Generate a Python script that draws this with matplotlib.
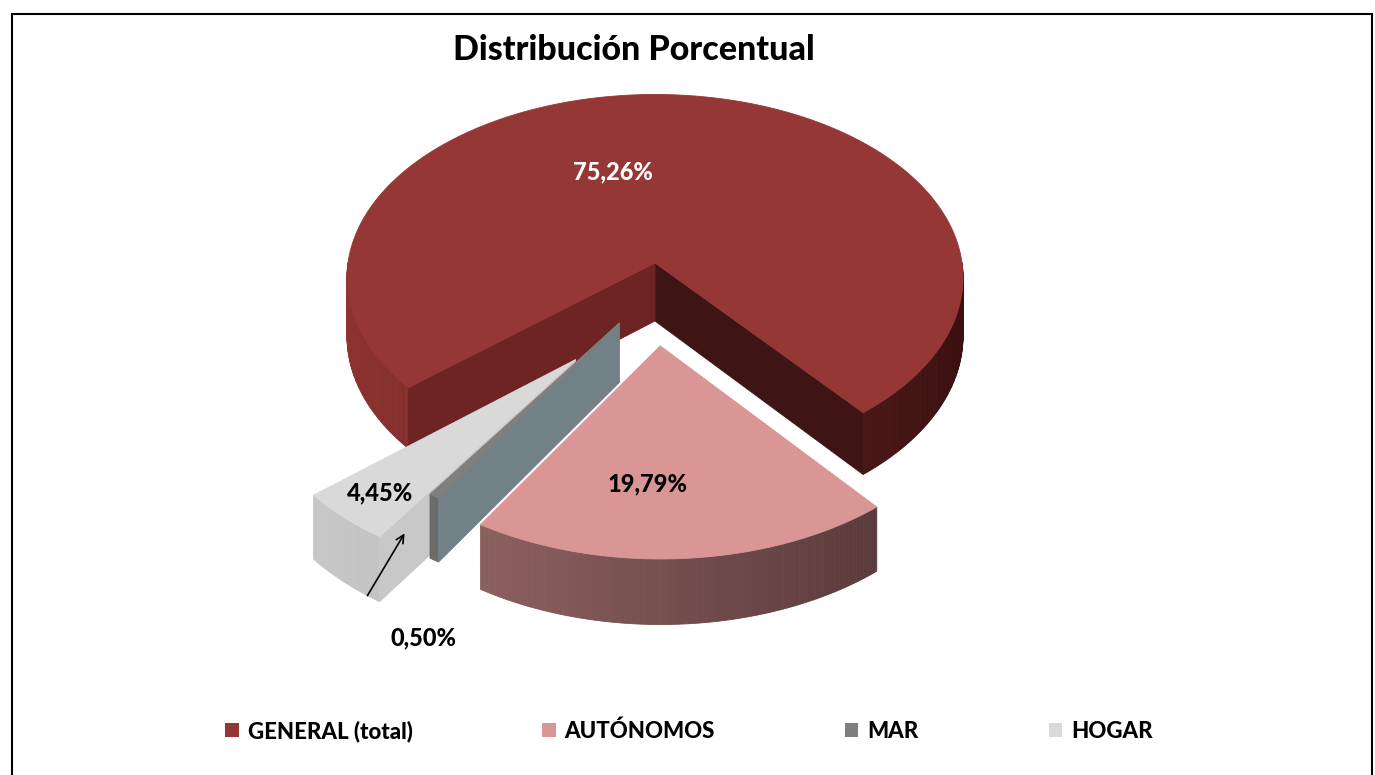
import numpy as np
import matplotlib
matplotlib.use("Agg")
import matplotlib.pyplot as plt
from matplotlib.patches import Polygon, Patch, Rectangle, FancyArrowPatch
from matplotlib.colors import to_rgb

# data
categories = ["GENERAL (total)", "AUTÓNOMOS", "MAR", "HOGAR"]
shares = [75.26, 19.79, 0.50, 4.45]
labels = ["75,26%", "19,79%", "0,50%", "4,45%"]

# style
top_colors = ["#953735", "#d99694", "#7f7f7f", "#d9d9d9"]
side_light = ["#8e3331", "#a16f6f", "#707070", "#cdcdcd"]
side_dark = ["#3a1010", "#4b2f2f", "#5a5a5a", "#a0a0a0"]
start_face = ["#3e1414", "#5a3b3b", "#5a5a5a", "#b0b0b0"]
end_face = ["#6e2423", "#8c6060", "#728088", "#c8c8c8"]
explode = [0.0, 0.44, 0.38, 0.68]
label_pos = [(613, 172), (648, 484), (424, 638), (380, 493)]
label_col = ["white", "black", "black", "black"]

CX, CY = 655, 263
RX, RY = 307, 182
P = 0.08
H = 58
START = -50.5
KX = 0.55
WEIGHT = 900

plt.rcParams["font.family"] = ["Lato", "DejaVu Sans"]

fig = plt.figure(figsize=(13.75, 7.75), dpi=100)
ax = fig.add_axes([0, 0, 1, 1])
ax.set_xlim(0, 1375)
ax.set_ylim(775, 0)
ax.axis("off")


def proj(x, y, bottom=False):
    s = 1.0 / (1.0 + P * y)
    px = CX + RX * x * s
    py = CY - RY * y * s
    if bottom:
        py += H * s
    return px, py


def mix(c1, c2, t):
    a, b = np.array(to_rgb(c1)), np.array(to_rgb(c2))
    return tuple(a + (b - a) * t)


# angles: first slice counterclockwise from START, the rest clockwise from START
spans = [v / 100.0 * 360.0 for v in shares]
ranges = [(START, START + spans[0])]
a = START
for sp in spans[1:]:
    ranges.append((a - sp, a))
    a -= sp


def draw_slice(i):
    t1, t2 = ranges[i]
    b = np.radians((t1 + t2) / 2)
    ox = explode[i] * np.cos(b) * KX
    oy = explode[i] * np.sin(b)
    angs = np.radians(np.linspace(t1, t2, max(int((t2 - t1) * 2), 4)))

    # outer side, only where it faces the viewer
    for j in range(len(angs) - 1):
        a0, a1 = angs[j], angs[j + 1]
        if np.sin((a0 + a1) / 2) >= 0:
            continue
        p0 = proj(ox + np.cos(a0), oy + np.sin(a0))
        p1 = proj(ox + np.cos(a1), oy + np.sin(a1))
        q1 = proj(ox + np.cos(a1), oy + np.sin(a1), True)
        q0 = proj(ox + np.cos(a0), oy + np.sin(a0), True)
        t = (np.cos((a0 + a1) / 2) + 1) / 2
        c = mix(side_light[i], side_dark[i], t)
        ax.add_patch(Polygon([p0, p1, q1, q0], closed=True, fc=c, ec=c, lw=0.6))

    # radial faces
    for ang, col, sign in ((t1, start_face[i], -1), (t2, end_face[i], 1)):
        r = np.radians(ang)
        normal = r + sign * np.pi / 2
        if np.sin(normal) >= 0:
            continue
        c0 = proj(ox, oy)
        e0 = proj(ox + np.cos(r), oy + np.sin(r))
        e1 = proj(ox + np.cos(r), oy + np.sin(r), True)
        c1 = proj(ox, oy, True)
        ax.add_patch(Polygon([c0, e0, e1, c1], closed=True, fc=col, ec=col, lw=0.6))

    # top
    pts = [proj(ox, oy)] + [proj(ox + np.cos(g), oy + np.sin(g)) for g in angs]
    ax.add_patch(Polygon(pts, closed=True, fc=top_colors[i], ec=top_colors[i], lw=0.6))


for i in [0, 3, 2, 1]:
    draw_slice(i)

for i, txt in enumerate(labels):
    ax.text(label_pos[i][0], label_pos[i][1], txt, ha="center", va="center",
            fontsize=17, fontweight=WEIGHT, color=label_col[i])

ax.add_patch(FancyArrowPatch((366, 598), (406, 531), arrowstyle="->",
                             mutation_scale=14, color="black", lw=1.2))

fig.text(634 / 1375, 1 - 50 / 775, "Distribución Porcentual", ha="center",
         va="center", fontsize=24.5, fontweight=WEIGHT)

handles = [Patch(facecolor=c, edgecolor="none") for c in top_colors]
fig.legend(handles, categories, loc="center", bbox_to_anchor=(0.501, 1 - 731 / 775),
           ncol=4, frameon=False, handlelength=0.6, handleheight=0.6,
           handletextpad=0.4, columnspacing=5.85,
           prop={"weight": WEIGHT, "size": 16})

fig.patches.append(Rectangle((12 / 1375, -0.01), (1372 - 12) / 1375, 1 - 14 / 775 + 0.01,
                             fill=False, ec="black", lw=1.5, transform=fig.transFigure))

fig.savefig("out.png", dpi=100)
